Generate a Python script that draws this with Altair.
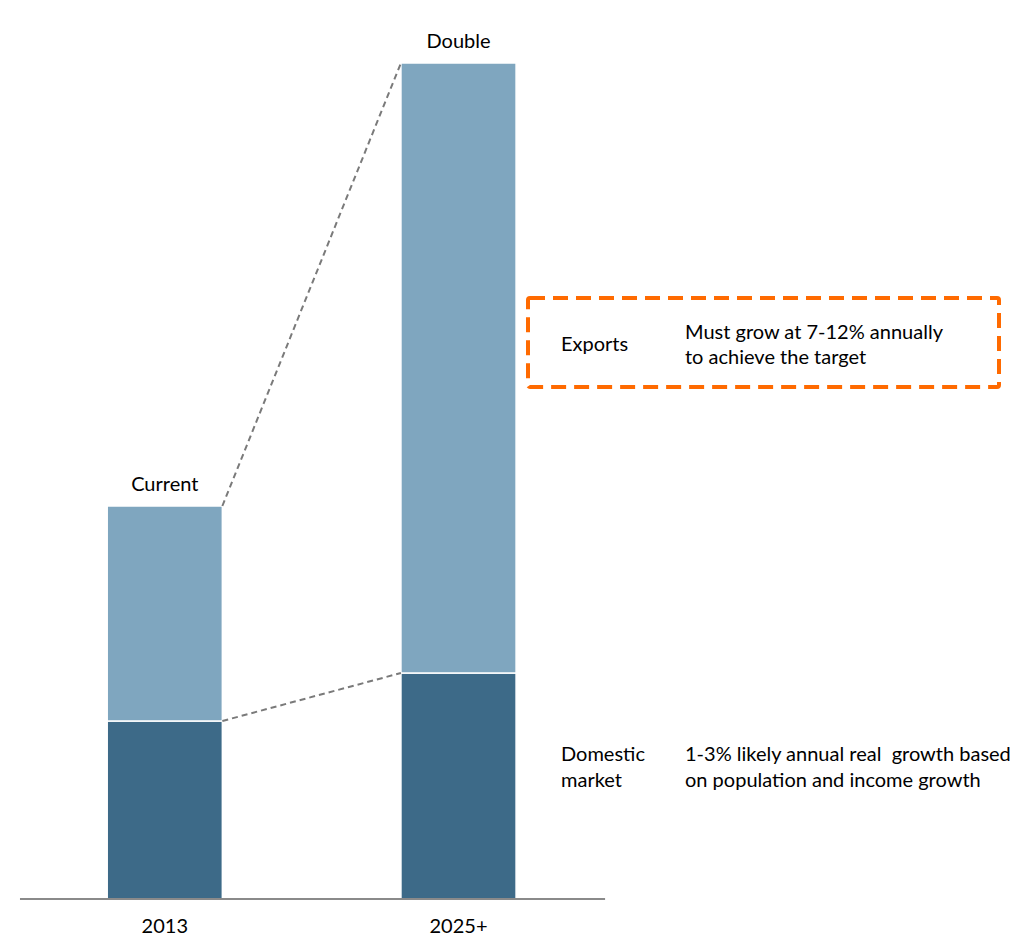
import altair as alt
import pandas as pd

# ---- data (arbitrary units) ----
years = ["2013", "2025+"]
positions = [0, 1]
domestic = [178, 226]
exports = [215, 610]
top_labels = ["Current", "Double"]

half_w = 0.196
FONT = "Lato"
FS = 20
DARK = "#3D6A88"
LIGHT = "#7FA6BF"

rows = []
for yr, p, d, e in zip(years, positions, domestic, exports):
    rows.append({"year": yr, "pos": p, "seg": "Domestic market", "y0": 0, "y1": d})
    rows.append({"year": yr, "pos": p, "seg": "Exports", "y0": d, "y1": d + e})
bars_df = pd.DataFrame(rows)
bars_df["xl"] = bars_df["pos"] - half_w
bars_df["xr"] = bars_df["pos"] + half_w

cat_df = pd.DataFrame({
    "year": years,
    "pos": positions,
    "total": [d + e for d, e in zip(domestic, exports)],
    "top": top_labels,
})

# connector lines: right edge of 2013 bar to left edge of 2025+ bar
conn_rows = []
for name, vals in [("total", [d + e for d, e in zip(domestic, exports)]), ("dom", domestic)]:
    conn_rows.append({"line": name, "x": positions[0] + half_w, "y": vals[0]})
    conn_rows.append({"line": name, "x": positions[1] - half_w, "y": vals[1]})
conn_df = pd.DataFrame(conn_rows)

x_scale = alt.Scale(domain=[-0.561, 2.915], nice=False, zero=False)
y_scale = alt.Scale(domain=[0, 899], nice=False)

bars = alt.Chart(bars_df).mark_bar(stroke="white", strokeWidth=1.5).encode(
    x=alt.X("xl:Q", scale=x_scale, axis=None),
    x2="xr:Q",
    y=alt.Y("y0:Q", scale=y_scale, axis=None),
    y2="y1:Q",
    color=alt.Color("seg:N", scale=alt.Scale(domain=["Domestic market", "Exports"], range=[DARK, LIGHT]), legend=None),
)

conn = alt.Chart(conn_df).mark_line(color="#7a7a7a", strokeWidth=2, strokeDash=[6, 4]).encode(
    x=alt.X("x:Q", scale=x_scale, axis=None),
    y=alt.Y("y:Q", scale=y_scale, axis=None),
    detail="line:N",
)

base_df = pd.DataFrame({"a": [-0.493], "b": [1.499], "y": [0]})
baseline = alt.Chart(base_df).mark_rule(color="#8a8a8a", strokeWidth=2).encode(
    x=alt.X("a:Q", scale=x_scale, axis=None),
    x2="b:Q",
    y=alt.Y("y:Q", scale=y_scale, axis=None),
)

top_text = alt.Chart(cat_df).mark_text(font=FONT, fontSize=FS, dy=-21, baseline="middle", color="black").encode(
    x=alt.X("pos:Q", scale=x_scale, axis=None),
    y=alt.Y("total:Q", scale=y_scale, axis=None),
    text="top:N",
)

year_text = alt.Chart(cat_df).mark_text(font=FONT, fontSize=FS, dy=28, baseline="middle", color="black").encode(
    x=alt.X("pos:Q", scale=x_scale, axis=None),
    y=alt.Y(datum=0, scale=y_scale, axis=None),
    text="year:N",
)

one = pd.DataFrame({"k": [0]})
box = alt.Chart(one).mark_rect(fill="transparent", stroke="#FF6A00", strokeWidth=4,
                                 strokeDash=[15, 8], cornerRadius=2).encode(
    x=alt.value(528), x2=alt.value(999), y=alt.value(298), y2=alt.value(387)
)

ann_df = pd.DataFrame({
    "text": ["Exports", "Must grow at 7-12% annually", "to achieve the target",
             "Domestic", "market", "1-3% likely annual real\u00a0 growth based", "on population and income growth"],
    "px": [561, 685, 685, 561, 561, 685, 685],
    "py": [345, 333, 358, 755, 781, 755, 781],
})
ann = alt.Chart(ann_df).mark_text(font=FONT, fontSize=FS, align="left", baseline="middle", color="black").encode(
    x=alt.X("px:Q", scale=None),
    y=alt.Y("py:Q", scale=None),
    text="text:N",
)

chart = alt.layer(bars, conn, baseline, top_text, year_text, box, ann).properties(
    width=1021, height=899,
    autosize=alt.AutoSizeParams(type="none"),
    padding={"left": 0, "top": 0, "right": 0, "bottom": 37},
).configure_view(stroke=None)

chart.save("out.html", embed_options={"renderer": "svg", "actions": False})
